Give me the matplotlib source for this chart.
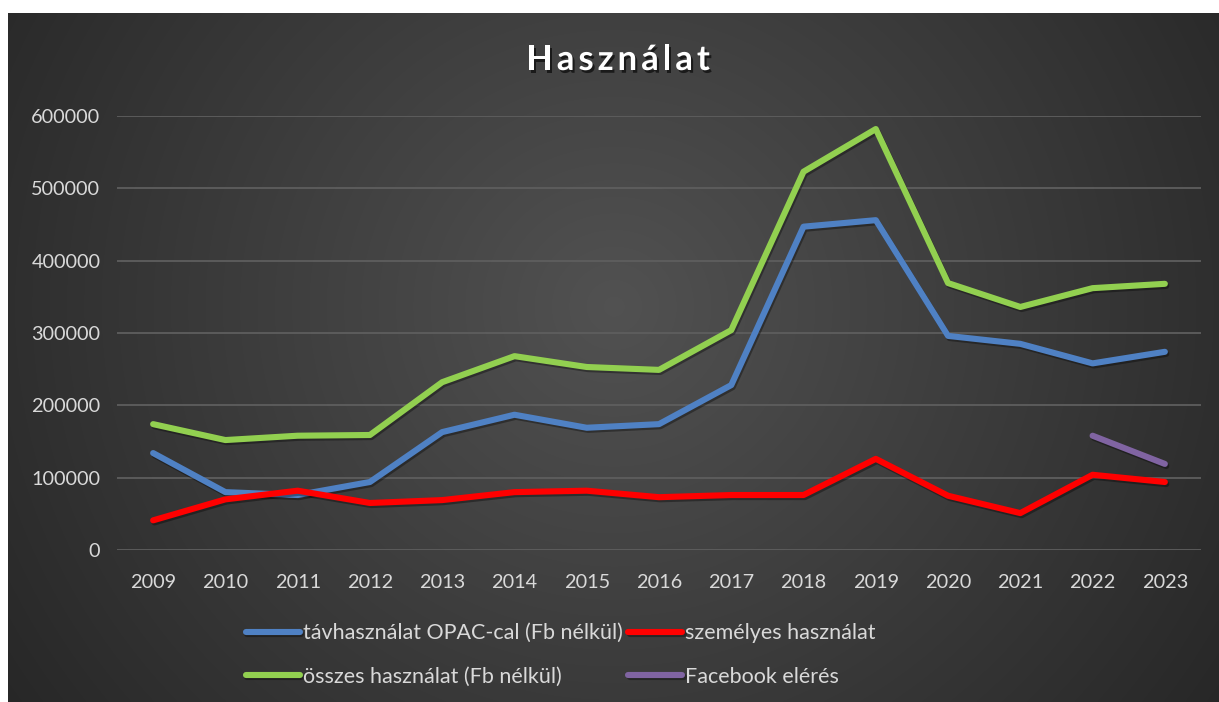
import numpy as np
import matplotlib
matplotlib.use("Agg")
import matplotlib.pyplot as plt
import matplotlib.patheffects as pe

years = ["2009", "2010", "2011", "2012", "2013", "2014", "2015", "2016",
         "2017", "2018", "2019", "2020", "2021", "2022", "2023"]
tav = [134000, 80000, 76000, 94000, 163000, 187000, 169000, 174000,
       228000, 447000, 456000, 296000, 285000, 258000, 274000]
szem = [41000, 70000, 82000, 65000, 69000, 80000, 82000, 73000,
        76000, 76000, 126000, 75000, 51000, 104000, 94000]
osszes = [174000, 152000, 158000, 159000, 232000, 268000, 253000, 249000,
          304000, 523000, 582000, 369000, 336000, 362000, 368000]
facebook = [None] * 13 + [158000, 119000]

labels = ["távhasználat OPAC-cal (Fb nélkül)", "személyes használat",
          "összes használat (Fb nélkül)", "Facebook elérés"]
colors = ["#4f81c4", "#ff0000", "#92d050", "#8064a2"]
title = "Használat"

plt.rcParams['font.family'] = ['Lato', 'DejaVu Sans']

W, H = 1219, 702
fig = plt.figure(figsize=(W / 100, H / 100), dpi=100)
fig.patch.set_facecolor("white")

# radial gradient background
bg = fig.add_axes([8 / W, 0, (W - 8) / W, (H - 13) / H])
bg.set_axis_off()
yy, xx = np.mgrid[0:400, 0:700]
cx, cy = 350, 170
r = np.sqrt(((xx - cx) / 700) ** 2 + ((yy - cy) / 400) ** 2 * 0.35)
r = np.clip(r / 0.62, 0, 1)
val = 0.32 - (0.32 - 0.15) * r
img = np.dstack([val, val, val])
bg.imshow(img, aspect="auto", extent=[0, 1, 0, 1], interpolation="bilinear")
bg.set_xlim(0, 1)
bg.set_ylim(0, 1)

ax = fig.add_axes([117 / W, (H - 550) / H, (1201 - 117) / W, (550 - 116) / H])
ax.set_facecolor("none")
x = np.arange(len(years))

series = [tav, szem, osszes, facebook]
handles = []
for vals, c, lab in zip(series, colors, labels):
    yv = np.array([np.nan if v is None else v for v in vals], dtype=float)
    ln, = ax.plot(x, yv, color=c, lw=4.4, solid_capstyle="round",
                  solid_joinstyle="round", label=lab, zorder=3,
                  path_effects=[pe.SimpleLineShadow(offset=(1, -1.5), alpha=0.35,
                                                    shadow_color="black"),
                                pe.Normal()])
    handles.append(ln)

ax.set_xlim(-0.5, len(years) - 0.5)
ax.set_ylim(0, 600000)
ax.set_yticks(np.arange(0, 600001, 100000))
ax.set_yticklabels([str(v) for v in range(0, 600001, 100000)])
ax.set_xticks(x)
ax.set_xticklabels(years)
ax.grid(axis="y", color="#5e5e5e", lw=1.3)
ax.set_axisbelow(True)
for s in ax.spines.values():
    s.set_visible(False)
ax.tick_params(length=0, colors="#d9d9d9", labelsize=14.3)
ax.tick_params(axis="x", pad=17)
ax.tick_params(axis="y", pad=12)

# letter-spaced title
renderer = fig.canvas.get_renderer()
tfs = 25
spacing = 4.0  # px
shadow = [pe.withSimplePatchShadow(offset=(1.5, -2), alpha=0.6,
                                   shadow_rgbFace="black")]
widths = []
for ch in title:
    t = fig.text(0, 0, ch, fontsize=tfs, fontweight="bold")
    bb = t.get_window_extent(renderer)
    t.remove()
    widths.append(bb.width)
total = sum(widths) + spacing * (len(title) - 1)
xpos = 618 - total / 2
for ch, w in zip(title, widths):
    fig.text(xpos / W, 1 - 60 / H, ch, ha="left", va="center", color="white",
             fontsize=tfs, fontweight="bold", path_effects=shadow)
    xpos += w + spacing

order = [handles[0], handles[2], handles[1], handles[3]]
leg = fig.legend(order, [h.get_label() for h in order], ncol=2,
                 loc="center", bbox_to_anchor=(561 / W, 1 - 655 / H),
                 frameon=False, fontsize=15.5, labelcolor="#d9d9d9",
                 handlelength=2.5, handletextpad=0.15, columnspacing=0.25,
                 labelspacing=1.1)
for lh in leg.get_lines():
    lh.set_linewidth(4.4)
    lh.set_solid_capstyle("round")

fig.savefig("out.png", dpi=100, facecolor=fig.get_facecolor())
